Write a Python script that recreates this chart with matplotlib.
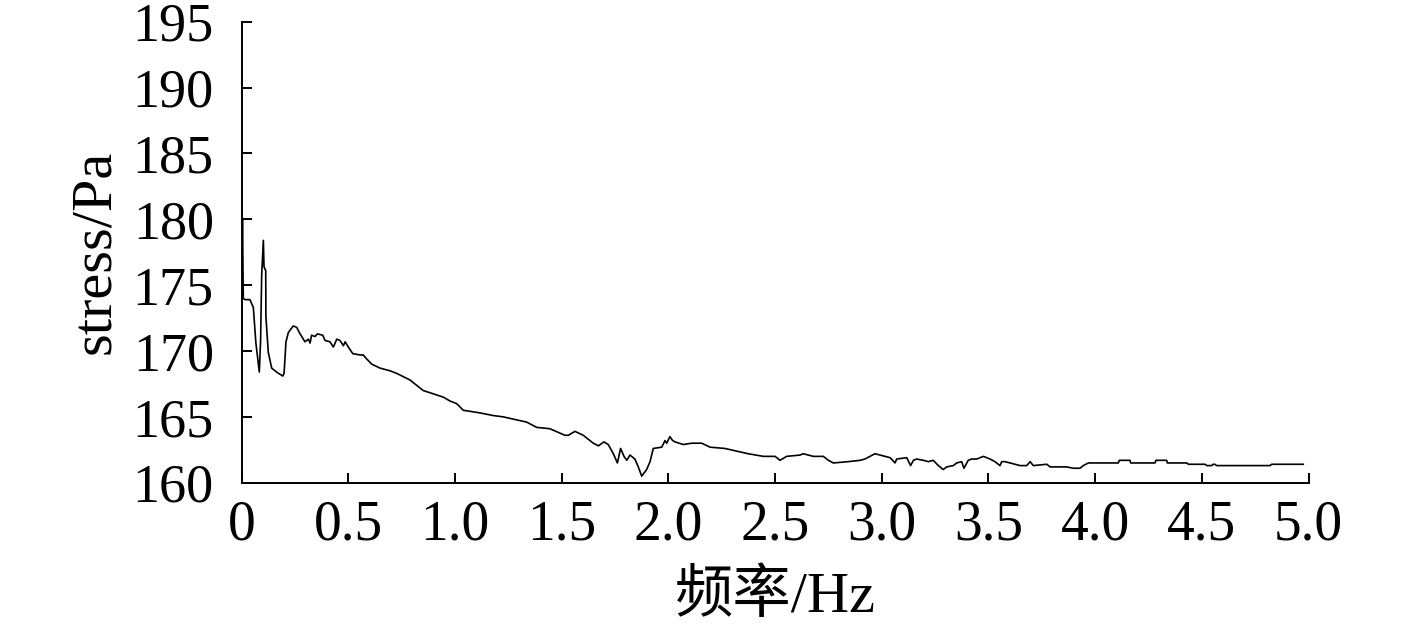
import matplotlib
matplotlib.use("Agg")
import matplotlib.pyplot as plt

freq = [0.000, 0.004, 0.008, 0.016, 0.039, 0.055, 0.067, 0.083, 0.089, 0.094, 0.102, 0.105, 0.113, 0.114,
        0.125, 0.141, 0.164, 0.193, 0.199, 0.208, 0.219, 0.242, 0.258, 0.274, 0.297, 0.313, 0.321, 0.328,
        0.344, 0.355, 0.380, 0.391, 0.414, 0.430, 0.446, 0.461, 0.477, 0.485, 0.500, 0.521, 0.555, 0.570,
        0.586, 0.610, 0.649, 0.695, 0.727, 0.789, 0.851, 0.945,
        0.977, 1.008, 1.039, 1.117, 1.179, 1.226, 1.336, 1.383, 1.445, 1.515, 1.531, 1.562, 1.601, 1.648,
        1.672, 1.698, 1.718, 1.742, 1.761, 1.776, 1.792, 1.805, 1.820, 1.843, 1.859, 1.875, 1.898, 1.914,
        1.929, 1.969, 1.984, 1.992, 2.007, 2.020, 2.031, 2.070, 2.109, 2.156, 2.195, 2.265, 2.320, 2.374,
        2.445, 2.500, 2.523, 2.554, 2.617,
        2.632, 2.679, 2.726, 2.750, 2.773, 2.843, 2.898, 2.921, 2.968, 2.992, 3.039, 3.062, 3.070, 3.117,
        3.135, 3.148, 3.163, 3.195, 3.218, 3.241, 3.265, 3.288, 3.304, 3.335, 3.351, 3.374, 3.385, 3.405,
        3.421, 3.445, 3.476, 3.507, 3.530, 3.554, 3.562, 3.577, 3.601, 3.648, 3.679, 3.695, 3.710, 3.773,
        3.789, 3.866, 3.897, 3.929,
        3.944, 3.968, 4.108, 4.113, 4.163, 4.166, 4.280, 4.285, 4.335, 4.338, 4.429, 4.437, 4.515, 4.523,
        4.546, 4.553, 4.561, 4.569, 4.819, 4.827, 4.975]

stress = [173.5, 180.1, 174.0, 173.9, 173.9, 173.3, 170.6, 168.4, 170.8, 175.7, 178.4, 176.4, 176.1, 172.6,
          169.9, 168.7, 168.4, 168.1, 168.3, 170.7, 171.4, 171.9, 171.8, 171.3, 170.7, 170.9, 170.6, 171.2,
          171.1, 171.3, 171.2, 170.8, 170.7, 170.3, 170.9, 170.8, 170.4, 170.7, 170.3, 169.8, 169.7, 169.7,
          169.4, 169.0, 168.7, 168.5, 168.3, 167.8, 167.0, 166.5,
          166.2, 166.0, 165.5, 165.3, 165.1, 165.0, 164.6, 164.2, 164.1, 163.6, 163.6, 163.9, 163.6, 163.0,
          162.8, 163.1, 162.9, 162.2, 161.5, 162.6, 162.0, 161.7, 162.1, 161.8, 161.2, 160.5, 161.0, 161.6,
          162.6, 162.7, 163.2, 163.0, 163.5, 163.2, 163.1, 162.9, 163.0, 163.0, 162.7, 162.6, 162.4, 162.2,
          162.0, 162.0, 161.7, 162.0, 162.1,
          162.2, 162.0, 162.0, 161.7, 161.5, 161.6, 161.7, 161.8, 162.2, 162.1, 161.9, 161.5, 161.8, 161.9,
          161.3, 161.7, 161.8, 161.7, 161.6, 161.7, 161.3, 161.0, 161.2, 161.3, 161.5, 161.6, 161.1, 161.7,
          161.8, 161.8, 162.0, 161.8, 161.6, 161.3, 161.6, 161.6, 161.5, 161.3, 161.3, 161.6, 161.3, 161.4,
          161.2, 161.2, 161.1, 161.1,
          161.3, 161.5, 161.5, 161.7, 161.7, 161.5, 161.5, 161.7, 161.7, 161.5, 161.5, 161.4, 161.4, 161.3,
          161.3, 161.4, 161.4, 161.3, 161.3, 161.4, 161.4]

x_ticks = [0, 0.5, 1.0, 1.5, 2.0, 2.5, 3.0, 3.5, 4.0, 4.5, 5.0]
x_tick_labels = ["0", "0.5", "1.0", "1.5", "2.0", "2.5", "3.0", "3.5", "4.0", "4.5", "5.0"]
y_ticks = [160, 165, 170, 175, 180, 185, 190, 195]

serif = ["Liberation Serif", "Noto Sans CJK SC", "DejaVu Sans"]
plt.rcParams["font.family"] = serif

fig = plt.figure(figsize=(14.17, 6.31), dpi=100)
ax = fig.add_axes([0.1705, 0.235, 0.753, 0.7306])
ax.plot(freq, stress, color="black", linewidth=1.2)

ax.set_xlim(0, 5.0)
ax.set_ylim(160, 195)
ax.set_xticks(x_ticks)
ax.set_xticklabels(x_tick_labels)
ax.set_yticks(y_ticks)

for s in ["top", "right"]:
    ax.spines[s].set_visible(False)
for s in ["left", "bottom"]:
    ax.spines[s].set_linewidth(1.4)

ax.tick_params(axis="both", direction="in", length=7.5, width=1.4)
ax.tick_params(axis="y", pad=20, labelsize=39)
ax.tick_params(axis="x", pad=12, labelsize=40)

ax.set_xlabel("频率/Hz", fontsize=42, labelpad=13)
ax.set_ylabel("stress/Pa", fontsize=42, labelpad=8)

fig.savefig("out.png", dpi=100)
